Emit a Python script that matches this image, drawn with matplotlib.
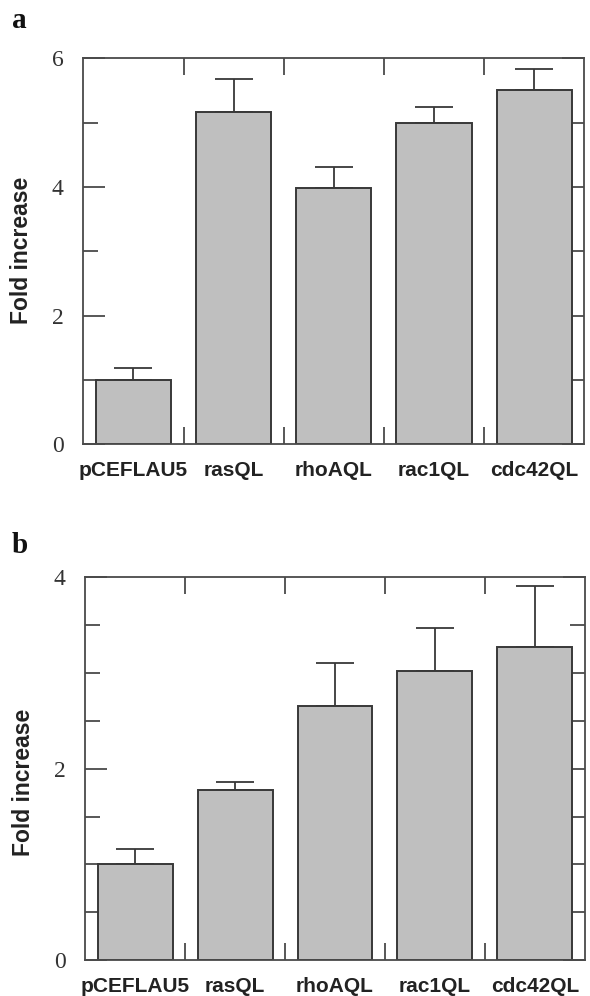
import matplotlib
matplotlib.use("Agg")
import matplotlib.pyplot as plt
import numpy as np

categories = ["pCEFLAU5", "rasQL", "rhoAQL", "rac1QL", "cdc42QL"]
values_a = [1.00, 5.17, 3.98, 5.00, 5.51]
errors_a = [0.19, 0.50, 0.33, 0.24, 0.33]
values_b = [1.00, 1.78, 2.65, 3.02, 3.27]
errors_b = [0.16, 0.08, 0.45, 0.45, 0.63]
yticks_a = [0, 2, 4, 6]
yminor_a = [1, 3, 5]
yticks_b = [0, 2, 4]
yminor_b = [0.5, 1, 1.5, 2.5, 3, 3.5]

BAR = "#bfbfbf"
EDGE = "#383838"
SPINE = "#4a4a4a"

fig = plt.figure(figsize=(5.9, 9.96), dpi=100)

def panel(rect, vals, errs, ymax, majors, minors):
    ax = fig.add_axes(rect)
    x = np.arange(len(categories))
    ax.bar(x, vals, width=0.75, color=BAR, edgecolor=EDGE, linewidth=1.4, zorder=2)
    ax.errorbar(x, vals, yerr=[np.zeros(len(errs)), errs], fmt="none",
                ecolor=EDGE, elinewidth=1.3, capsize=13.5, capthick=1.3, zorder=1)
    ax.set_xlim(-0.5, 4.5)
    ax.set_ylim(0, ymax)
    ax.set_xticks(x)
    ax.set_xticklabels(categories, fontfamily="Liberation Sans", fontweight="bold",
                       fontsize=15, color="#222222")
    ax.set_xticks(x[:-1] + 0.5, minor=True)
    ax.tick_params(axis="x", which="major", length=0, pad=12)
    ax.tick_params(axis="x", which="minor", direction="in", length=12,
                   width=1.3, color=SPINE, top=True, bottom=True)
    ax.set_yticks(majors)
    ax.set_yticklabels([str(m) for m in majors], fontfamily="Liberation Serif",
                       fontsize=17, color="#333333")
    ax.set_yticks(minors, minor=True)
    ax.tick_params(axis="y", which="major", direction="in", length=16, width=1.3,
                   color=SPINE, left=True, right=True, pad=14)
    ax.tick_params(axis="y", which="minor", direction="in", length=11, width=1.3,
                   color=SPINE, left=True, right=True)
    for s in ax.spines.values():
        s.set_color(SPINE)
        s.set_linewidth(1.3)
    return ax

ax1 = panel([0.1412, 0.5539, 0.8491, 0.3876], values_a, errors_a, 6, yticks_a, yminor_a)
ax2 = panel([0.1441, 0.0358, 0.8474, 0.3851], values_b, errors_b, 4, yticks_b, yminor_b)

fig.text(22 / 590, 1 - 250 / 996, "Fold increase", rotation=90, ha="center", va="center",
         fontfamily="Liberation Sans", fontweight="bold", fontsize=16.5, color="#222222")
fig.text(24 / 590, 1 - 782 / 996, "Fold increase", rotation=90, ha="center", va="center",
         fontfamily="Liberation Sans", fontweight="bold", fontsize=16.5, color="#222222")
fig.text(12 / 590, 1 - 28 / 996, "a", ha="left", va="baseline",
         fontfamily="Liberation Serif", fontweight="bold", fontsize=21, color="#111111")
fig.text(12 / 590, 1 - 553 / 996, "b", ha="left", va="baseline",
         fontfamily="Liberation Serif", fontweight="bold", fontsize=21, color="#111111")

fig.savefig("out.png", dpi=100)
